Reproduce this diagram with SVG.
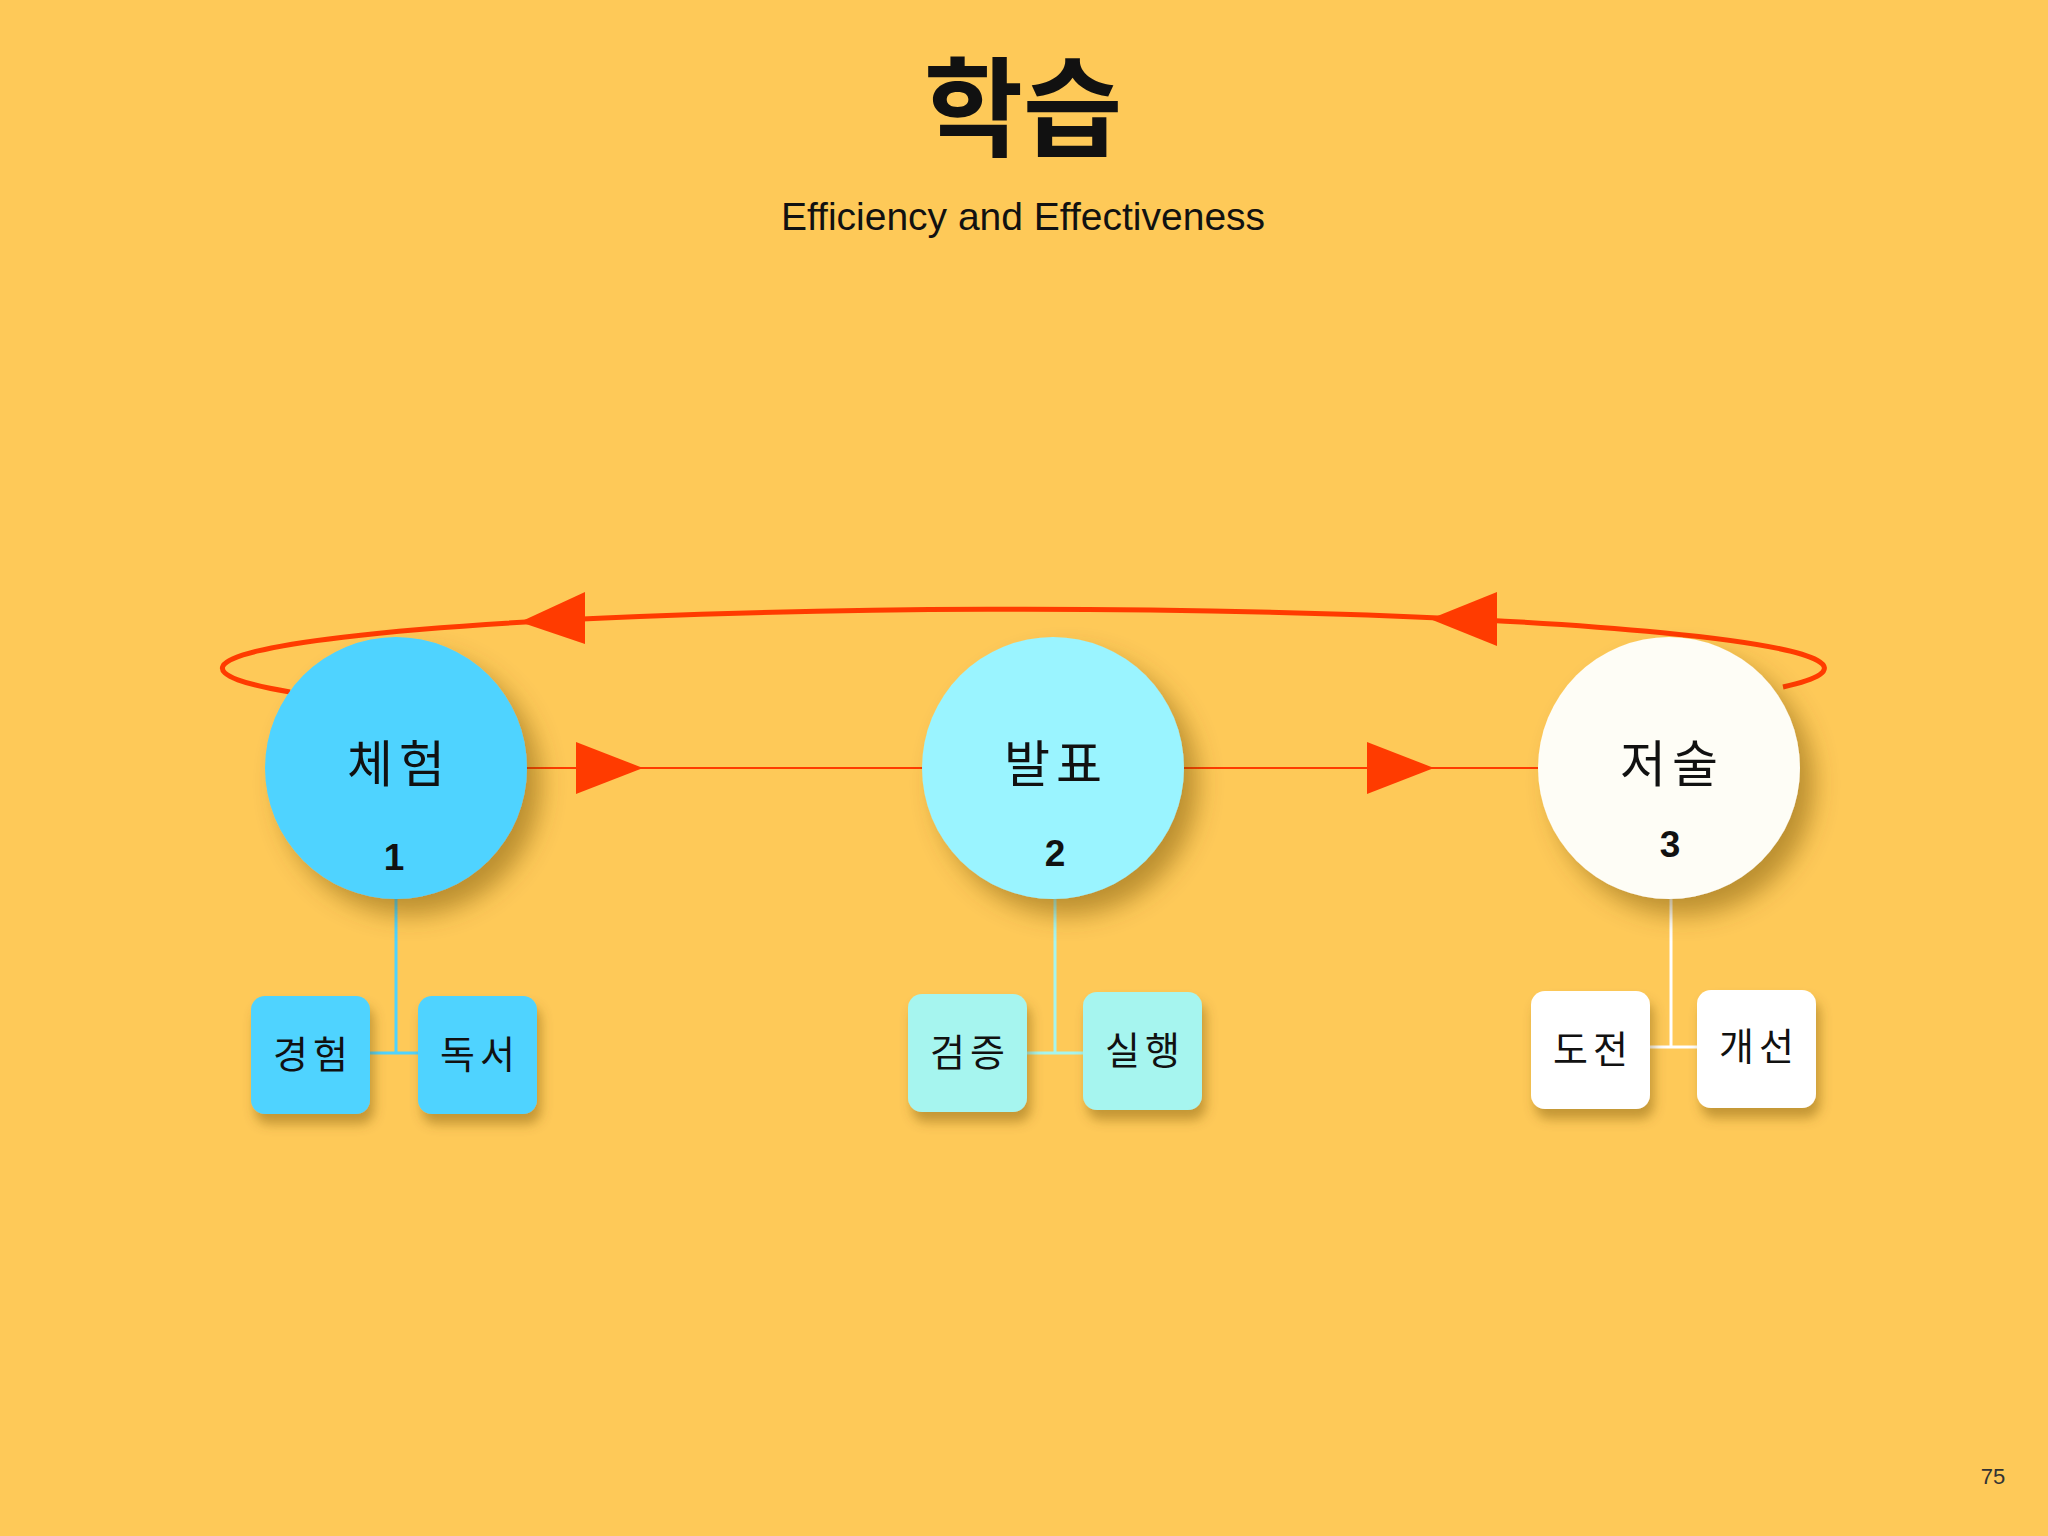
<svg xmlns="http://www.w3.org/2000/svg" width="2048" height="1536" viewBox="0 0 2048 1536">
<defs>
<filter id="sh" x="-30%" y="-30%" width="170%" height="170%"><feDropShadow dx="14" dy="16" stdDeviation="12" flood-color="#6b4a00" flood-opacity="0.45"/></filter>
<filter id="shb" x="-30%" y="-30%" width="170%" height="170%"><feDropShadow dx="4" dy="10" stdDeviation="6" flood-color="#6b4a00" flood-opacity="0.4"/></filter>
</defs>
<style>
.k{font-family:"Noto Sans CJK KR","Noto Sans",sans-serif;text-anchor:middle;fill:#111}
.ct{font-size:50px;letter-spacing:6px}
.bt{font-size:38px;letter-spacing:5px}
.n{font-family:"Liberation Sans",Arial,sans-serif;font-weight:bold;font-size:37px;text-anchor:middle;fill:#111}
.red{stroke:#FF3B00;fill:none}
</style>
<rect width="2048" height="1536" fill="#FEC958"/>
<text class="k" x="1023" y="148" font-size="108" font-weight="bold">학습</text>
<text x="1023" y="230" font-family="Liberation Sans,Arial,sans-serif" font-size="39" text-anchor="middle" fill="#111">Efficiency and Effectiveness</text>
<g id="connectors">
<path class="red" stroke-width="5" d="M290,692 A801 59 0 1 1 1783,687"/>
<polygon points="520,622 585,592 585,644" fill="#FF3B00"/>
<polygon points="1430,619 1497,592 1497,646" fill="#FF3B00"/>
<line class="red" stroke-width="2" x1="526" y1="768" x2="1538" y2="768"/>
<polygon points="643,768 576,742 576,794" fill="#FF3B00"/>
<polygon points="1434,768 1367,742 1367,794" fill="#FF3B00"/>
<path d="M396,899 V1053 M370,1053 H418" stroke="#4FD3FF" stroke-width="3" fill="none"/>
<path d="M1055,899 V1053 M1027,1053 H1083" stroke="#A6F5EF" stroke-width="3" fill="none"/>
<path d="M1671,899 V1047 M1650,1047 H1697" stroke="#FFFFFF" stroke-width="3" fill="none"/>
</g>
<g id="n1"><circle cx="396" cy="768" r="131" fill="#4FD3FF" filter="url(#sh)"/><text class="k ct" x="399" y="782">체험</text><text class="n" x="394" y="870">1</text></g>
<g id="n2"><circle cx="1053" cy="768" r="131" fill="#9AF4FF" filter="url(#sh)"/><text class="k ct" x="1056" y="782">발표</text><text class="n" x="1055" y="866">2</text></g>
<g id="n3"><circle cx="1669" cy="768" r="131" fill="#FEFDF6" filter="url(#sh)"/><text class="k ct" x="1672" y="782">저술</text><text class="n" x="1670" y="857">3</text></g>
<g id="b1"><rect x="251" y="996" width="119" height="118" rx="14" fill="#4FD3FF" filter="url(#shb)"/><text class="k bt" x="313" y="1068">경험</text></g>
<g id="b2"><rect x="418" y="996" width="119" height="118" rx="14" fill="#4FD3FF" filter="url(#shb)"/><text class="k bt" x="480" y="1068">독서</text></g>
<g id="b3"><rect x="908" y="994" width="119" height="118" rx="14" fill="#A6F5EF" filter="url(#shb)"/><text class="k bt" x="970" y="1066">검증</text></g>
<g id="b4"><rect x="1083" y="992" width="119" height="118" rx="14" fill="#A6F5EF" filter="url(#shb)"/><text class="k bt" x="1145" y="1064">실행</text></g>
<g id="b5"><rect x="1531" y="991" width="119" height="118" rx="14" fill="#FFFFFF" filter="url(#shb)"/><text class="k bt" x="1593" y="1063">도전</text></g>
<g id="b6"><rect x="1697" y="990" width="119" height="118" rx="14" fill="#FFFFFF" filter="url(#shb)"/><text class="k bt" x="1759" y="1060">개선</text></g>
<text x="1993" y="1484" font-family="Liberation Sans,Arial,sans-serif" font-size="22" text-anchor="middle" fill="#333">75</text>
</svg>
